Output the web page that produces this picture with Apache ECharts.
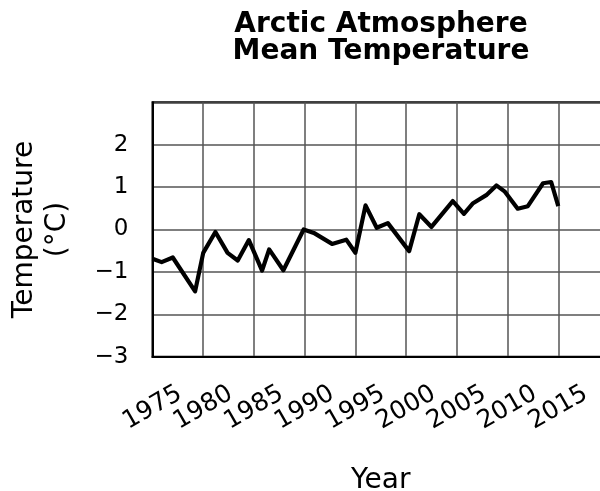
<!DOCTYPE html>
<html>
<head>
<meta charset="utf-8">
<script src="https://cdn.jsdelivr.net/npm/echarts@6/dist/echarts.min.js"></script>
<style>
html,body{margin:0;padding:0;background:#fff;}
#chart{width:600px;height:491px;}
</style>
</head>
<body>
<div id="chart"></div>
<script>
const years = [1975, 1975.9, 1977.0, 1979.2, 1980.0, 1981.2, 1982.4, 1983.4, 1984.5, 1985.8, 1986.5, 1987.9, 1989.9, 1990.9, 1992.7, 1994.1, 1995.0, 1996.0, 1997.1, 1998.2, 2000.3, 2001.3, 2002.5, 2004.6, 2005.7, 2006.6, 2007.9, 2008.9, 2009.7, 2011.0, 2012.0, 2013.5, 2014.3, 2015.0];
const temps = [-0.69, -0.77, -0.66, -1.46, -0.55, -0.06, -0.55, -0.73, -0.25, -0.97, -0.47, -0.96, 0.0, -0.08, -0.34, -0.24, -0.55, 0.57, 0.04, 0.15, -0.51, 0.36, 0.06, 0.67, 0.37, 0.62, 0.81, 1.04, 0.9, 0.49, 0.55, 1.09, 1.12, 0.55];
const xTickLabels = ['1975', '1980', '1985', '1990', '1995', '2000', '2005', '2010', '2015'];
const yTickLabels = ['−3', '−2', '−1', '0', '1', '2'];

const font = 'DejaVu Sans';
const chart = echarts.init(document.getElementById('chart'), null, {renderer: 'canvas'});
chart.setOption({
  animation: false,
  backgroundColor: '#fff',
  title: {
    text: 'Arctic Atmosphere\nMean Temperature',
    left: 381,
    top: 11,
    padding: 0,
    textAlign: 'center',
    textStyle: {fontFamily: font, fontWeight: 'bold', fontSize: 28, lineHeight: 27, color: '#000'}
  },
  grid: {
    left: 152.5, top: 102.3, width: 456.5, height: 254.4,
    containLabel: false, outerBoundsMode: 'none',
    show: true, borderColor: '#000', borderWidth: 2, backgroundColor: 'transparent'
  },
  xAxis: {
    type: 'value', min: 1975, max: 2020, interval: 5,
    name: 'Year', nameLocation: 'middle', nameGap: 110,
    nameTextStyle: {fontFamily: font, fontSize: 28, color: '#000'},
    axisLine: {show: true, onZero: false, lineStyle: {color: '#000', width: 2}},
    axisTick: {show: false},
    splitLine: {show: true, lineStyle: {color: '#555', width: 1.5}},
    axisLabel: {
      rotate: 30, align: 'center', verticalAlign: 'middle', margin: 51,
      fontFamily: font, fontSize: 25, color: '#000', hideOverlap: false,
      formatter: function (v) {
        const i = xTickLabels.indexOf(String(Math.round(v)));
        return i >= 0 ? xTickLabels[i] : '';
      }
    }
  },
  yAxis: {
    type: 'value', min: -3, max: 3, interval: 1,
    name: 'Temperature\n(°C)', nameLocation: 'middle', nameGap: 78, nameRotate: 90,
    nameTextStyle: {fontFamily: font, fontSize: 28, lineHeight: 33, color: '#000'},
    axisLine: {show: true, onZero: false, lineStyle: {color: '#000', width: 2}},
    axisTick: {show: false},
    splitLine: {show: true, lineStyle: {color: '#555', width: 1.5}},
    axisLabel: {
      margin: 24, fontFamily: font, fontSize: 23, color: '#000',
      formatter: function (v) {
        const idx = Math.round(v) + 3;
        return (idx >= 0 && idx < yTickLabels.length) ? yTickLabels[idx] : '';
      }
    }
  },
  series: [{
    type: 'line',
    data: years.map((y, i) => [y, temps[i]]),
    showSymbol: false,
    symbol: 'none',
    lineStyle: {color: '#000', width: 4.2, join: 'round'},
    clip: true
  }]
});
</script>
</body>
</html>
